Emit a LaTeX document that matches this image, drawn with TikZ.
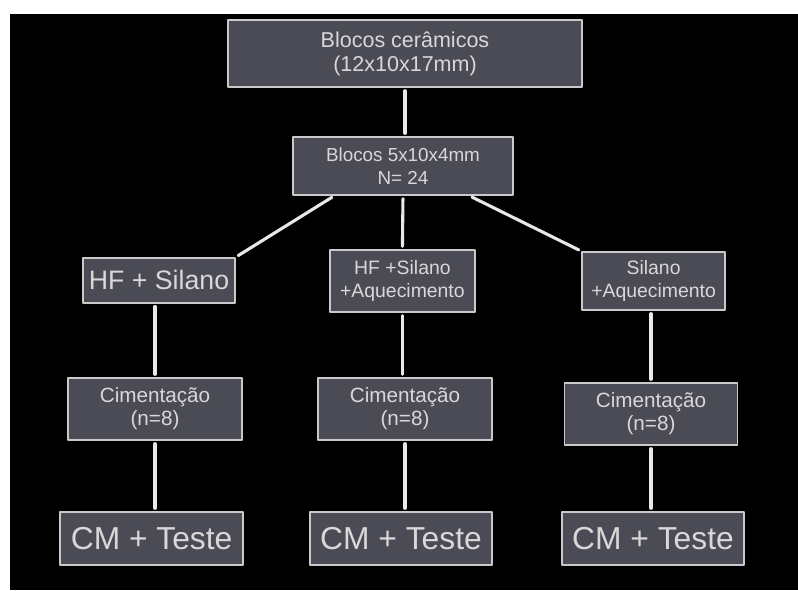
\documentclass[tikz,border=0pt]{standalone}
\usepackage{fontspec}
\setmainfont{Liberation Sans}
\usetikzlibrary{calc}
\definecolor{boxfill}{HTML}{4A4B55}
\definecolor{boxline}{HTML}{C9C9C9}
\definecolor{txt}{HTML}{D8D8D8}
\definecolor{wire}{HTML}{E8E8E8}
\begin{document}
\begin{tikzpicture}[line join=round, line cap=round,
	caixa/.style={draw=boxline, fill=boxfill, line width=1.2pt, text=txt, align=center, inner sep=0pt},
	liga/.style={draw=wire, line width=2.2pt, shorten <=2pt, shorten >=2pt},
	fa/.style={font=\fontsize{15.3}{17}\selectfont},
	fb/.style={font=\fontsize{13.4}{16}\selectfont},
	fc/.style={font=\fontsize{13.8}{16}\selectfont},
	fd/.style={font=\fontsize{14.7}{16.4}\selectfont},
	fe/.style={font=\fontsize{19}{22}\selectfont},
	ff/.style={font=\fontsize{22.6}{26}\selectfont}]
	% fundo
	\useasboundingbox (0,0) rectangle (19.95,14.75);
	\fill[white] (0,0) rectangle (19.95,14.75);
	\fill[black] (0.25,0) rectangle (19.95,14.4);
	
	%Caixas
	\node[caixa,fa,minimum width=8.85cm,minimum height=1.675cm] (topo) at (10.125,13.41) {Blocos cerâmicos\\(12x10x17mm)};
	\node[caixa,fb,minimum width=5.5cm,minimum height=1.45cm] (blocos) at (10.075,10.6) {Blocos 5x10x4mm\\N= 24};
	
	\node[caixa,fe,minimum width=3.8cm,minimum height=1.125cm] (hfs) at (3.975,7.74) {HF + Silano};
	\node[caixa,fc,minimum width=3.625cm,minimum height=1.55cm] (hfsa) at (10.06,7.725) {HF +Silano\\+Aquecimento};
	\node[caixa,fc,minimum width=3.575cm,minimum height=1.45cm] (sa) at (16.34,7.725) {Silano\\+Aquecimento};
	
	\node[caixa,fd,minimum width=4.35cm,minimum height=1.55cm] (cima) at (3.875,4.525) {Cimentação\\(n=8)};
	\node[caixa,fd,minimum width=4.35cm,minimum height=1.55cm] (cimb) at (10.125,4.525) {Cimentação\\(n=8)};
	\node[caixa,fd,minimum width=4.325cm,minimum height=1.55cm] (cimc) at (16.275,4.4) {Cimentação\\(n=8)};
	
	\node[caixa,ff,minimum width=4.575cm,minimum height=1.325cm] (cma) at (3.79,1.29) {CM + Teste};
	\node[caixa,ff,minimum width=4.55cm,minimum height=1.325cm] (cmb) at (10.025,1.29) {CM + Teste};
	\node[caixa,ff,minimum width=4.55cm,minimum height=1.325cm] (cmc) at (16.325,1.29) {CM + Teste};
	
	%Ligacoes
	\draw[liga] (topo.south) -- (topo.south |- blocos.north);
	\draw[liga] ($(blocos.south)!0.62!(blocos.south west)$) -- (hfs.north east);
	\draw[liga] (blocos.south) -- (hfsa.north);
	\draw[liga] ($(blocos.south)!0.6!(blocos.south east)$) -- (sa.north west);
	
	\draw[liga] (hfs.south -| cima.north) -- (cima.north);
	\draw[liga] (hfsa.south) -- (hfsa.south |- cimb.north);
	\draw[liga] (sa.south -| cimc.north) -- (cimc.north);
	
	\draw[liga] (cima.south) -- (cima.south |- cma.north);
	\draw[liga] (cimb.south) -- (cimb.south |- cmb.north);
	\draw[liga] (cimc.south) -- (cimc.south |- cmc.north);
\end{tikzpicture}
\end{document}
